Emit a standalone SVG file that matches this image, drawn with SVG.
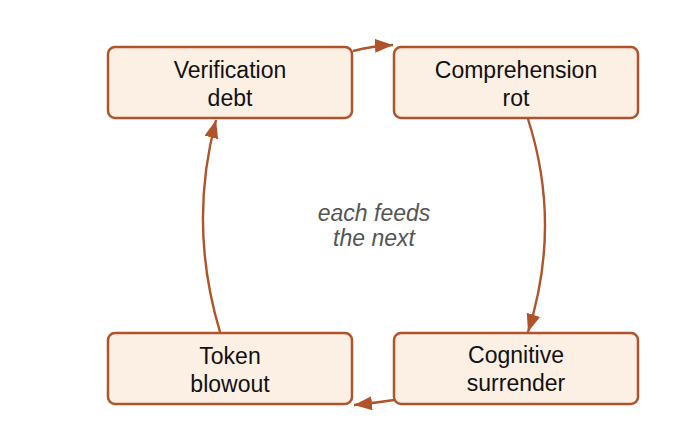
<svg xmlns="http://www.w3.org/2000/svg" width="692" height="428" viewBox="0 0 692 428">
<style>
.node rect{fill:#fcefe4;stroke:#b0532b;stroke-width:2.5}
.node text{font-family:"Liberation Sans",Arial,sans-serif;font-size:23px;fill:#111;text-anchor:middle}
.conn path{fill:none;stroke:#b0532b;stroke-width:2.4}
.note{font-family:"Liberation Sans",Arial,sans-serif;font-size:23px;font-style:italic;fill:#555;text-anchor:middle}
</style>
<defs>
<marker id="ah" markerUnits="userSpaceOnUse" markerWidth="20" markerHeight="16" refX="18" refY="7" orient="auto">
<path d="M0,0 L18,7 L0,14 z" fill="#b0532b"/>
</marker>
</defs>
<rect width="692" height="428" fill="#fff"/>
<g class="conn">
<path d="M353,51 Q372,46 393,45" marker-end="url(#ah)"/>
<path d="M528,119 Q562,225 528,332" marker-end="url(#ah)"/>
<path d="M394,400 Q375,403 354,405" marker-end="url(#ah)"/>
<path d="M220,332 Q188,225 216,120" marker-end="url(#ah)"/>
</g>
<g id="n1" class="node"><rect x="108" y="47" width="244" height="71" rx="7"/><text x="230" y="78">Verification</text><text x="230" y="106">debt</text></g>
<g id="n2" class="node"><rect x="394" y="47" width="244" height="71" rx="7"/><text x="516" y="78">Comprehension</text><text x="516" y="106">rot</text></g>
<g id="n3" class="node"><rect x="394" y="333" width="244" height="71" rx="7"/><text x="516" y="363">Cognitive</text><text x="516" y="391">surrender</text></g>
<g id="n4" class="node"><rect x="108" y="333" width="244" height="71" rx="7"/><text x="230" y="364">Token</text><text x="230" y="392">blowout</text></g>
<text class="note" x="374" y="221">each feeds</text>
<text class="note" x="374" y="246">the next</text>
</svg>
